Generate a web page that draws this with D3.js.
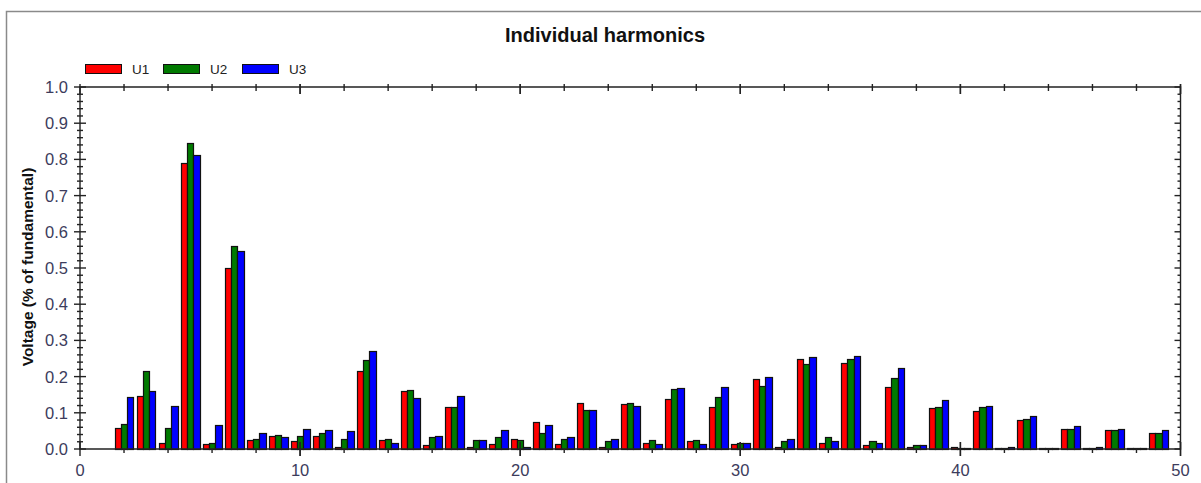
<!DOCTYPE html>
<html><head><meta charset="utf-8">
<script src="https://cdn.jsdelivr.net/npm/d3@7"></script>
<style>
html,body{margin:0;padding:0;background:#fff;}
svg{display:block;}
</style></head>
<body>
<svg id="chart" width="1201" height="483"></svg>
<script>
const harmonics = d3.range(2, 50);
const seriesNames = ["U1", "U2", "U3"];
const seriesColors = ["#ff0000", "#007a00", "#0000ff"];
const U1 = [0.057,0.147,0.017,0.790,0.014,0.499,0.026,0.037,0.022,0.037,0.006,0.216,0.026,0.159,0.010,0.117,0.006,0.014,0.029,0.075,0.014,0.128,0.006,0.124,0.017,0.139,0.022,0.117,0.014,0.192,0.006,0.249,0.017,0.238,0.010,0.170,0.006,0.113,0.006,0.106,0.003,0.079,0.003,0.056,0.003,0.052,0.003,0.044];
const U2 = [0.068,0.216,0.057,0.846,0.017,0.561,0.029,0.040,0.037,0.044,0.029,0.247,0.029,0.163,0.033,0.117,0.026,0.033,0.026,0.044,0.029,0.109,0.022,0.128,0.026,0.167,0.026,0.144,0.017,0.174,0.022,0.235,0.033,0.249,0.022,0.197,0.010,0.117,0.003,0.117,0.003,0.083,0.004,0.056,0.003,0.052,0.003,0.044];
const U3 = [0.144,0.159,0.120,0.812,0.066,0.546,0.044,0.033,0.056,0.052,0.049,0.270,0.017,0.140,0.037,0.147,0.026,0.052,0.006,0.067,0.033,0.109,0.029,0.120,0.014,0.168,0.014,0.170,0.017,0.200,0.029,0.254,0.022,0.258,0.017,0.224,0.010,0.136,0.003,0.120,0.006,0.090,0.003,0.064,0.006,0.056,0.003,0.052];
const seriesValues = [U1, U2, U3];
const xTickLabels = [0, 10, 20, 30, 40, 50];
const yTickLabels = [0.0,0.1,0.2,0.3,0.4,0.5,0.6,0.7,0.8,0.9,1.0];
const titleText = "Individual harmonics";
const yTitleText = "Voltage (% of fundamental)";

const svg = d3.select("#chart");
const L = 80, R = 1180.5, T = 87, B = 449;
const x = d3.scaleLinear().domain([0, 50]).range([L, R]);
const y = d3.scaleLinear().domain([0, 1]).range([B, T]);

// outer frame
svg.append("rect").attr("x", 6.5).attr("y", 11.5).attr("width", 1300).attr("height", 600)
  .attr("fill", "none").attr("stroke", "#8a8a8a").attr("stroke-width", 1.5);

// title
svg.append("text").attr("x", 605).attr("y", 42).attr("text-anchor", "middle")
  .attr("font-family", "Liberation Sans, Arial, sans-serif").attr("font-weight", "bold")
  .attr("font-size", 20).attr("fill", "#111").text(titleText);

// legend
const leg = svg.append("g");
const legX = [85, 163, 242];
seriesNames.forEach((n, i) => {
  leg.append("rect").attr("x", legX[i] + 0.5).attr("y", 64.5).attr("width", 36).attr("height", 9)
    .attr("fill", seriesColors[i]).attr("stroke", "#111").attr("stroke-width", 1);
  leg.append("text").attr("x", legX[i] + 47).attr("y", 74)
    .attr("font-family", "Liberation Sans, Arial, sans-serif").attr("font-size", 13.5)
    .attr("fill", "#222").text(n);
});

// bars
const groupW = 0.86, barW = groupW / 3;
const gBars = svg.append("g");
seriesValues.forEach((vals, si) => {
  gBars.selectAll(null).data(harmonics).enter().append("rect")
    .attr("x", (h) => Math.round(x(h - groupW / 2 + si * barW)) + 0.5)
    .attr("width", (h) => Math.max(1, Math.round(x(h - groupW / 2 + (si + 1) * barW)) - Math.round(x(h - groupW / 2 + si * barW))))
    .attr("y", (h, i) => Math.round(y(vals[i])) + 0.5)
    .attr("height", (h, i) => Math.max(0, Math.round(y(0)) - Math.round(y(vals[i]))))
    .attr("fill", seriesColors[si]).attr("stroke", "#111").attr("stroke-width", 1.2);
});

// axes lines
const axisColor = "#222";
const ax = svg.append("g").attr("stroke", axisColor).attr("stroke-width", 1.4).attr("fill", "none");
ax.append("path").attr("d", `M${x(0)},${y(0)}H${x(50)}V${y(1)}H${x(0)}Z`);

// y ticks (left, crossing) and right (inward)
const yMinor = d3.range(0, 51).map(d => d / 50);
yMinor.forEach((v, i) => {
  const major = i % 5 === 0;
  const len = major ? 6 : 3;
  ax.append("line").attr("x1", x(0) - len).attr("x2", x(0) + len).attr("y1", y(v)).attr("y2", y(v));
  ax.append("line").attr("x1", x(50) - len).attr("x2", x(50)).attr("y1", y(v)).attr("y2", y(v));
});
// x ticks (bottom crossing, top inward)
d3.range(0, 51, 2).concat([10, 20, 30, 40, 50]).forEach((v) => {
  const major = v % 10 === 0;
  const len = major ? 7 : 4;
  ax.append("line").attr("x1", x(v)).attr("x2", x(v)).attr("y1", y(0) - (major ? len : 0)).attr("y2", y(0) + len);
  ax.append("line").attr("x1", x(v)).attr("x2", x(v)).attr("y1", y(1) - 3).attr("y2", y(1) + len);
});

// tick labels
const lblColor = "#3c3c5c";
svg.append("g").selectAll("text").data(yTickLabels).enter().append("text")
  .attr("x", 68).attr("y", d => y(d) + 6).attr("text-anchor", "end")
  .attr("font-family", "Liberation Sans, Arial, sans-serif").attr("font-size", 16.5)
  .attr("fill", lblColor).text(d => d3.format(".1f")(d));
svg.append("g").selectAll("text").data(xTickLabels).enter().append("text")
  .attr("x", d => x(d)).attr("y", 476).attr("text-anchor", "middle")
  .attr("font-family", "Liberation Sans, Arial, sans-serif").attr("font-size", 16.5)
  .attr("fill", lblColor).text(d => d);

// y title
svg.append("text").attr("transform", "translate(33,267) rotate(-90)").attr("text-anchor", "middle")
  .attr("font-family", "Liberation Sans, Arial, sans-serif").attr("font-weight", "bold")
  .attr("font-size", 15.5).attr("fill", "#111").text(yTitleText);
</script>
</body></html>
